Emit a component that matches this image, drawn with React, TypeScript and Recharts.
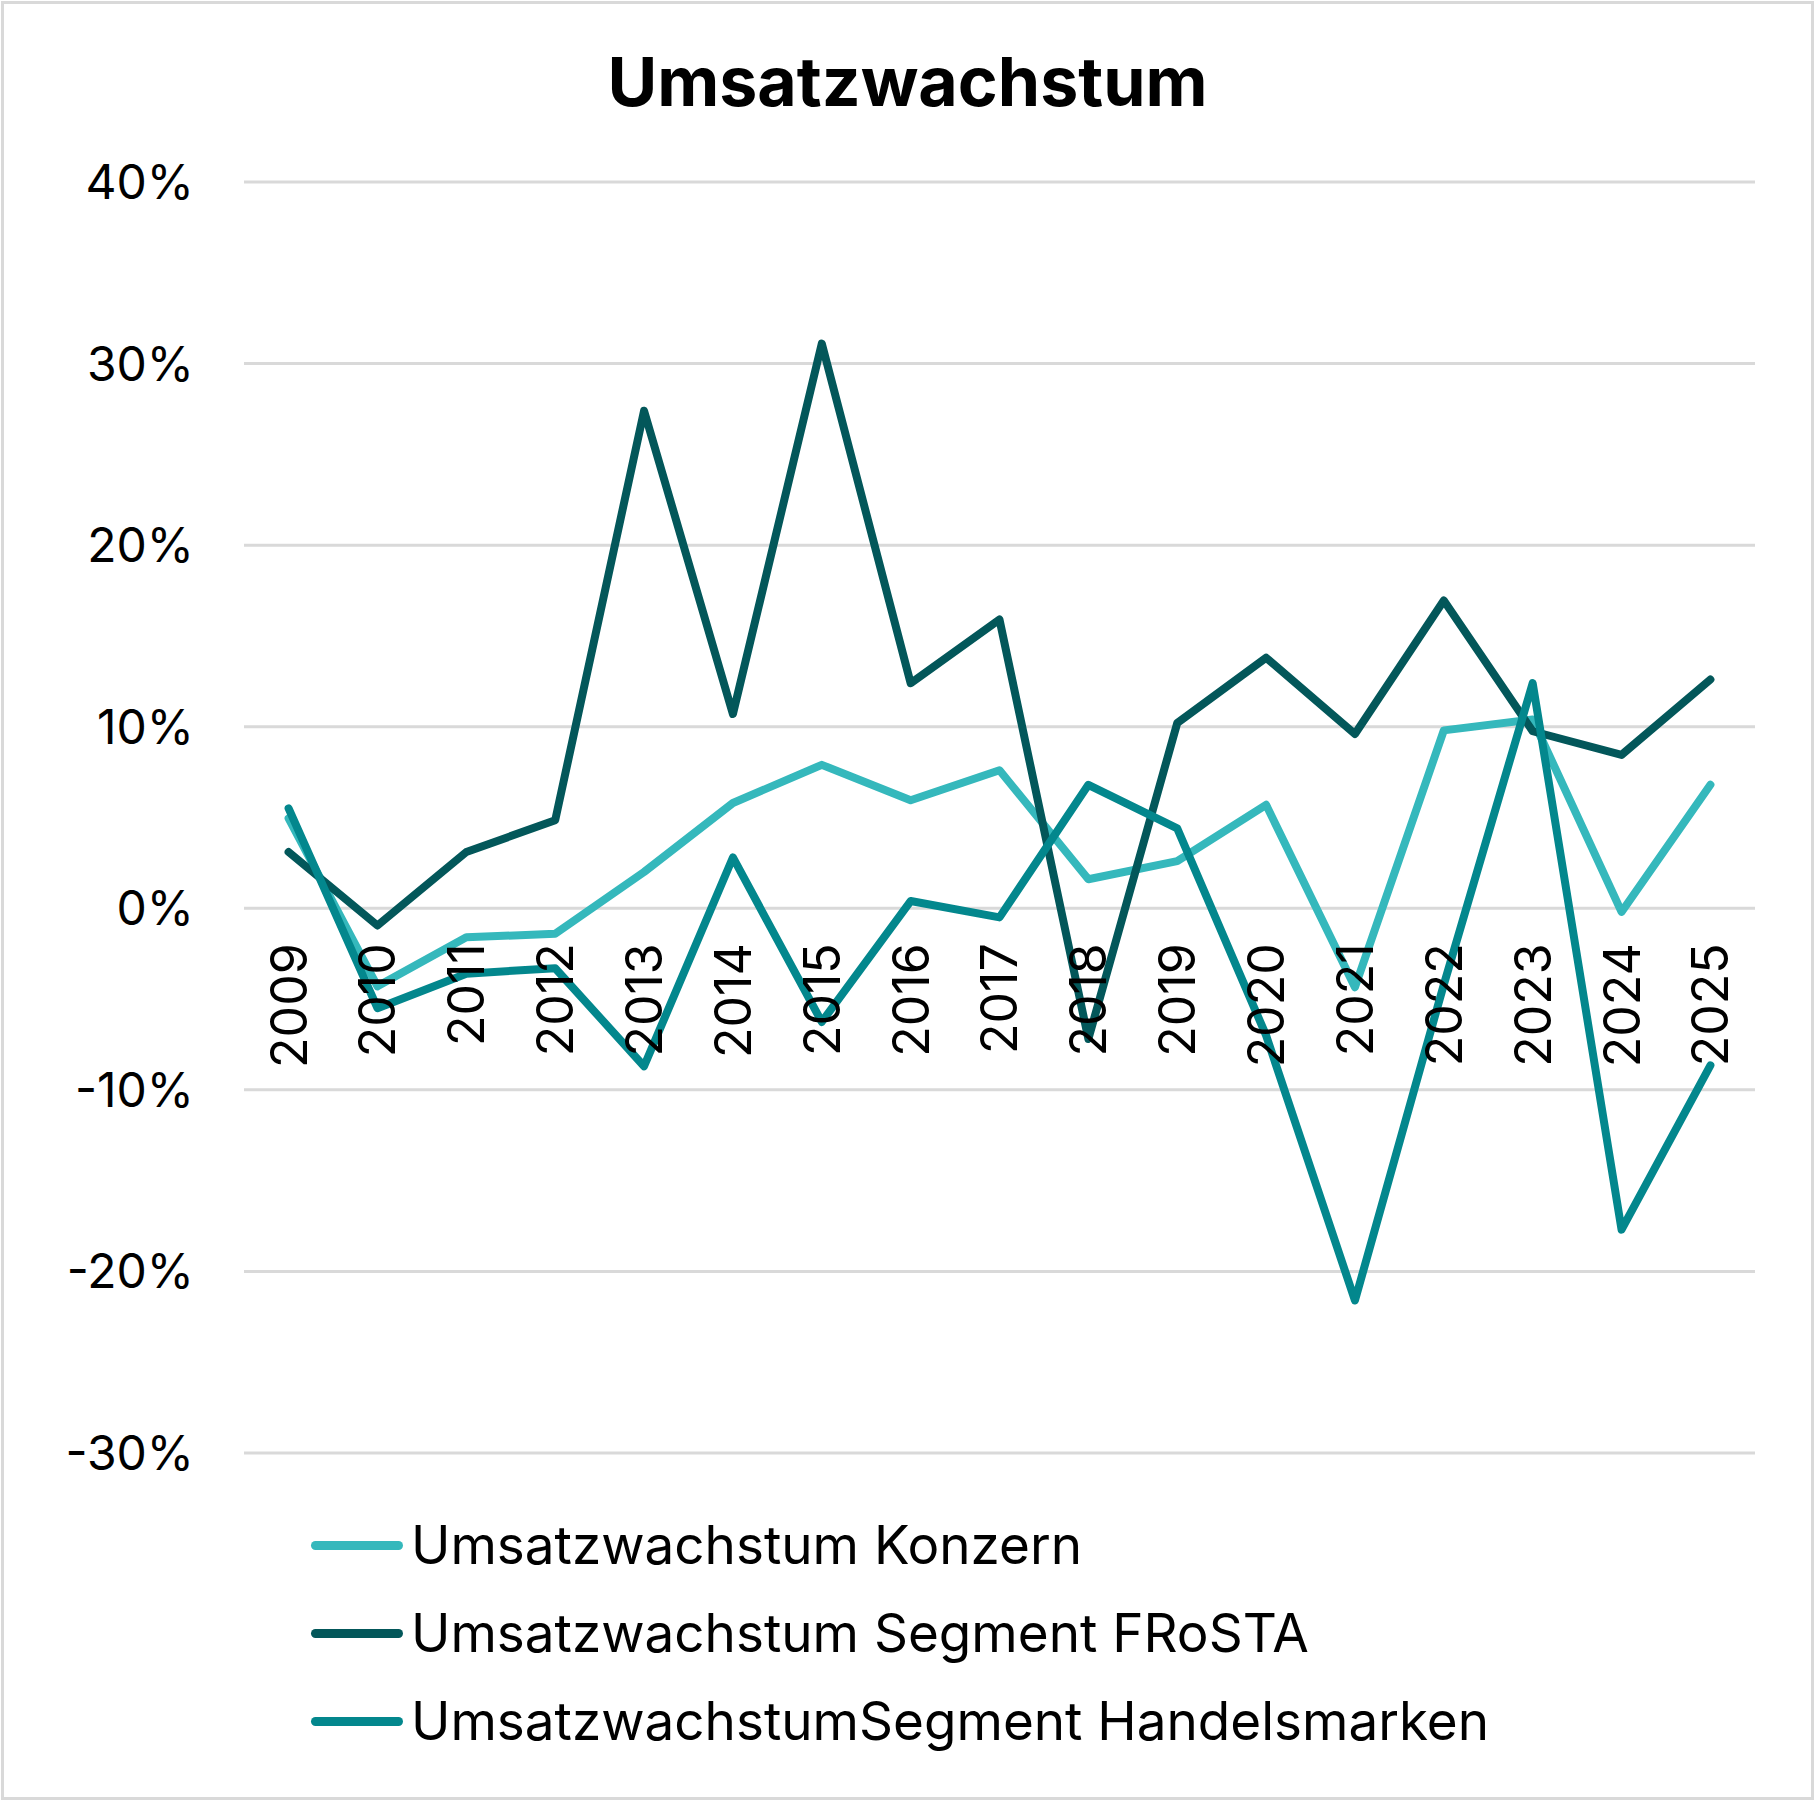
import React from 'react';
import { LineChart, Line, XAxis, YAxis, CartesianGrid } from 'recharts';

const years = ['2009','2010','2011','2012','2013','2014','2015','2016','2017','2018','2019','2020','2021','2022','2023','2024','2025'];
const konzern = [4.95, -4.3, -1.6, -1.4, 2.0, 5.8, 7.9, 5.95, 7.6, 1.6, 2.6, 5.7, -4.35, 9.8, 10.4, -0.2, 6.8];
const frosta = [3.1, -0.95, 3.1, 4.85, 27.4, 10.7, 31.1, 12.4, 15.9, -7.2, 10.2, 13.8, 9.6, 16.95, 9.75, 8.45, 12.6];
const handelsmarken = [5.5, -5.5, -3.6, -3.3, -8.7, 2.8, -6.26, 0.4, -0.5, 6.8, 4.4, -7.0, -21.6, -4.2, 12.4, -17.7, -8.65];
const yTicks = [-30, -20, -10, 0, 10, 20, 30, 40];

const seriesKeys = ['k', 'f', 'h'];
const seriesNames = ['Umsatzwachstum Konzern', 'Umsatzwachstum Segment FRoSTA', 'UmsatzwachstumSegment Handelsmarken'];
const seriesColors = ['#35B8BC', '#03575A', '#03878D'];

const data = years.map((y, i) => ({ year: y, k: konzern[i], f: frosta[i], h: handelsmarken[i] }));

const W = 1815;
const H = 1801;
const M_TOP = 182;
const M_RIGHT = 60;
const X_AXIS_H = 30;
const M_BOTTOM = 318;
const PLOT_H = H - M_TOP - M_BOTTOM - X_AXIS_H;
const Y_MIN = -30;
const Y_MAX = 40;
const FONT = 'Inter, "Open Sans", sans-serif';

const XTick = (props: any) => {
  const { x, y, payload } = props;
  const zeroY = y - (PLOT_H * (0 - Y_MIN)) / (Y_MAX - Y_MIN);
  const ly = zeroY + 35;
  return (
    <text
      x={x}
      y={ly}
      transform={`rotate(-90, ${x}, ${ly})`}
      textAnchor="end"
      dominantBaseline="central"
      fontSize={50}
      fontFamily={FONT}
      fill="#000"
    >
      {payload.value}
    </text>
  );
};

export default function App() {
  return (
    <div style={{ position: 'absolute', left: 0, top: 0, width: W, height: H, background: '#fff' }}>
      <div style={{ position: 'absolute', left: 1, top: 1, right: 1, bottom: 1, border: '3px solid #d9d9d9' }} />
      <div
        style={{
          position: 'absolute', left: 0, top: 46, width: W, textAlign: 'center',
          fontFamily: FONT, fontWeight: 700, fontSize: 68, lineHeight: '70px', color: '#000',
        }}
      >
        Umsatzwachstum
      </div>
      <div style={{ position: 'absolute', left: 0, top: 0 }}>
        <LineChart width={W} height={H} data={data} margin={{ top: M_TOP, right: M_RIGHT, left: 0, bottom: M_BOTTOM }}>
          <CartesianGrid horizontal vertical={false} stroke="#d9d9d9" strokeWidth={3} />
          <XAxis
            dataKey="year"
            height={X_AXIS_H}
            axisLine={false}
            tickLine={false}
            tickSize={0}
            tickMargin={0}
            interval={0}
            padding={{ left: 44.6, right: 44.6 }}
            tick={<XTick />}
          />
          <YAxis
            width={244}
            domain={[Y_MIN, Y_MAX]}
            ticks={yTicks}
            axisLine={false}
            tickLine={false}
            tickSize={0}
            tickMargin={50}
            tickFormatter={(v: number) => `${v}%`}
            tick={{ fontSize: 48, fontFamily: FONT, fill: '#000' }}
          />
          {seriesKeys.map((k, i) => (
            <Line
              key={k}
              type="linear"
              dataKey={k}
              name={seriesNames[i]}
              stroke={seriesColors[i]}
              strokeWidth={8}
              dot={false}
              strokeLinejoin="round"
              strokeLinecap="round"
              isAnimationActive={false}
            />
          ))}
        </LineChart>
      </div>
      <div style={{ position: 'absolute', left: 311, top: 1501, fontFamily: FONT }}>
        {seriesNames.map((n, i) => (
          <div key={n} style={{ display: 'flex', alignItems: 'center', height: 88 }}>
            <div style={{ width: 92, height: 9, borderRadius: 5, background: seriesColors[i], marginRight: 8 }} />
            <span style={{ fontSize: 53, color: '#000', whiteSpace: 'nowrap' }}>{n}</span>
          </div>
        ))}
      </div>
    </div>
  );
}
